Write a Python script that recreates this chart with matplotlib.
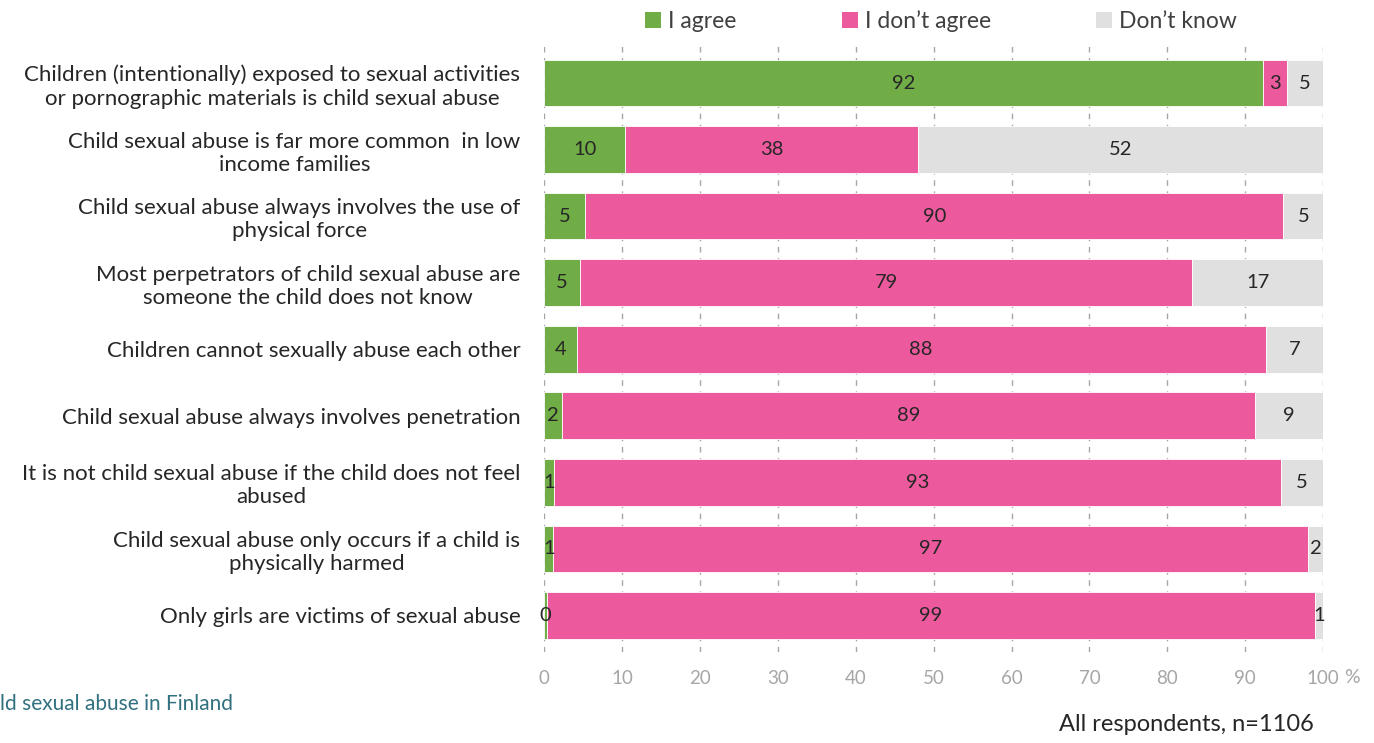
import matplotlib.pyplot as plt
from matplotlib.patches import Patch

# statements (top to bottom)
statements = [
    "Children (intentionally) exposed to sexual activities\nor pornographic materials is child sexual abuse",
    "Child sexual abuse is far more common  in low\nincome families",
    "Child sexual abuse always involves the use of\nphysical force",
    "Most perpetrators of child sexual abuse are\nsomeone the child does not know",
    "Children cannot sexually abuse each other",
    "Child sexual abuse always involves penetration",
    "It is not child sexual abuse if the child does not feel\nabused",
    "Child sexual abuse only occurs if a child is\nphysically harmed",
    "Only girls are victims of sexual abuse",
]
agree = [92.3, 10.4, 5.3, 4.6, 4.2, 2.3, 1.3, 1.2, 0.35]
disagree = [3.1, 37.6, 89.6, 78.6, 88.4, 88.9, 93.3, 96.9, 98.55]
dont_know = [4.6, 52.0, 5.1, 16.8, 7.4, 8.8, 5.4, 1.9, 1.1]
series_names = ["I agree", "I don\u2019t agree", "Don\u2019t know"]
colors = ["#70AD47", "#EC5A9D", "#E0E0E0"]

plt.rcParams['font.family'] = ['Lato', 'DejaVu Sans']

fig = plt.figure(figsize=(13.74, 7.43), dpi=100)
ax = fig.add_axes([0.396, 0.1225, 0.567, 0.815])

y = list(range(len(statements)))
left = [0.0] * len(statements)
for vals, name, col in zip([agree, disagree, dont_know], series_names, colors):
    bars = ax.barh(y, vals, left=left, height=0.7, color=col, edgecolor="white",
                   linewidth=0.6, label=name, zorder=2)
    for b, v in zip(bars, vals):
        ax.text(b.get_x() + b.get_width() / 2, b.get_y() + b.get_height() / 2,
                f"{v:.0f}", ha="center", va="center", fontsize=14.5, color="#262626", zorder=3)
    left = [l + v for l, v in zip(left, vals)]

ax.set_xlim(0, 100)
ax.set_ylim(len(statements) - 0.45, -0.55)
ax.set_xticks(range(0, 101, 10))
ax.set_yticks(y)
ax.set_yticklabels(statements, fontsize=16, color="#262626", linespacing=1.2,
                   multialignment="center")
ax.tick_params(axis="x", colors="#A6A6A6", labelsize=13.5, length=0, pad=13)
ax.tick_params(axis="y", length=0, pad=17)
ax.grid(axis="x", linestyle=(0, (4, 4)), color="#A6A6A6", linewidth=1, zorder=0)
for s in ax.spines.values():
    s.set_visible(False)

ax.text(1.027, -0.042, "%", transform=ax.transAxes, fontsize=14, color="#A6A6A6",
        ha="left", va="center")

handles = [Patch(facecolor=c, edgecolor="none") for c in colors]
fig.legend(handles, series_names, loc="center", bbox_to_anchor=(0.685, 0.972), ncol=3,
           frameon=False, fontsize=16.5, handlelength=0.7, handleheight=0.7,
           handletextpad=0.3, columnspacing=4.6, labelcolor="#404040")

fig.text(0.0, 0.052, "ld sexual abuse in Finland", fontsize=15, color="#31707F",
         ha="left", va="center")
fig.text(0.956, 0.025, "All respondents, n=1106", fontsize=17, color="#262626",
         ha="right", va="center")

fig.savefig("out.png", dpi=100)
